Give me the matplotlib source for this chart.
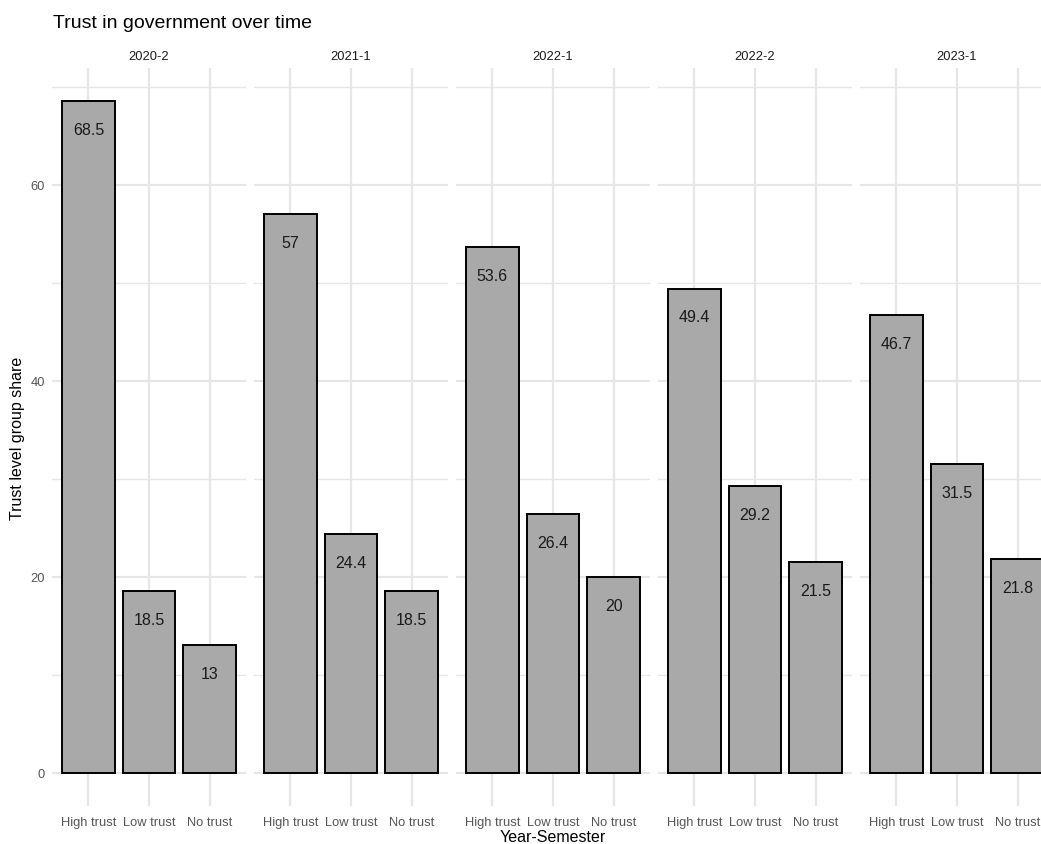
import numpy as np
import matplotlib
matplotlib.use("Agg")
from matplotlib import pyplot as plt

# data
semesters = ["2020-2", "2021-1", "2022-1", "2022-2", "2023-1"]
trust_levels = ["High trust", "Low trust", "No trust"]
high_trust = [68.5, 57, 53.6, 49.4, 46.7]
low_trust = [18.5, 24.4, 26.4, 29.2, 31.5]
no_trust = [13, 18.5, 20, 21.5, 21.8]

plt.rcParams["font.family"] = ["Liberation Sans", "DejaVu Sans"]

W, H = 1041, 845
fig = plt.figure(figsize=(W / 100, H / 100), dpi=100)

# panel geometry in pixels (ggplot facet layout, last panel runs off the canvas)
panel_left = 52
panel_w = 194
panel_gap = 8
panel_top = 69
panel_bottom = 807

grid_col = "#e6e6e6"
ymin, ymax = -3.4, 71.9

for i, sem in enumerate(semesters):
    x0 = panel_left + i * (panel_w + panel_gap)
    ax = fig.add_axes(
        [x0 / W, (H - panel_bottom) / H, panel_w / W, (panel_bottom - panel_top) / H]
    )
    vals = [high_trust[i], low_trust[i], no_trust[i]]
    xs = np.arange(len(trust_levels))
    ax.bar(xs, vals, width=0.87, color="#a9a9a9", edgecolor="black",
           linewidth=1.4, zorder=3)
    for x, v in zip(xs, vals):
        ax.annotate(f"{v:g}", (x, v), xytext=(0, -20.5), textcoords="offset points",
                    ha="center", va="center", fontsize=11.5, color="#1a1a1a",
                    zorder=4)

    ax.set_xlim(-0.6, 2.6)
    ax.set_ylim(ymin, ymax)
    ax.set_xticks(xs)
    ax.set_xticklabels(trust_levels, fontsize=9.3, color="#555555")
    ax.set_yticks([0, 20, 40, 60])
    ax.set_yticks([10, 30, 50, 70], minor=True)
    if i == 0:
        ax.set_yticklabels(["0", "20", "40", "60"], fontsize=9.3, color="#555555")
    else:
        ax.set_yticklabels([])
    ax.tick_params(which="both", length=0)
    ax.tick_params(axis="x", pad=7)
    ax.tick_params(axis="y", pad=5)
    ax.grid(which="major", color=grid_col, linewidth=1.6, zorder=0)
    ax.grid(which="minor", axis="y", color=grid_col, linewidth=1.0, zorder=0)
    ax.set_axisbelow(True)
    for s in ax.spines.values():
        s.set_visible(False)

    # strip label
    fig.text((x0 + panel_w / 2) / W, 1 - 57 / H, sem, ha="center", va="center",
             fontsize=9.3, color="#1a1a1a")

fig.text(53 / W, 1 - 24 / H, "Trust in government over time", ha="left",
         va="center", fontsize=14, color="black")
fig.text(18 / W, 1 - 438 / H, "Trust level group share", rotation=90,
         ha="center", va="center", fontsize=11.5, color="black")
plot_right = panel_left + 5 * panel_w + 4 * panel_gap
fig.text((panel_left + plot_right) / 2 / W, 1 - 838 / H, "Year-Semester",
         ha="center", va="center", fontsize=11.5, color="black")

fig.savefig("out.png", dpi=100, facecolor="white")
